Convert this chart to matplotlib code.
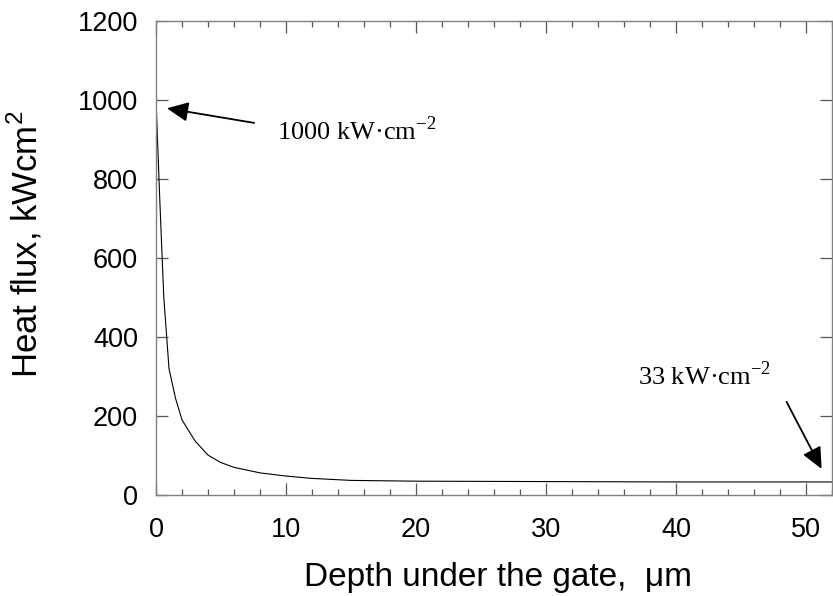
import matplotlib.pyplot as plt
from matplotlib.ticker import MultipleLocator

# Данные кривой
depth = [0, 0.3, 0.6, 1.0, 1.5, 2.0, 3.0, 4.0, 5.0, 6.0, 8.0, 10.0, 12.0,
         15.0, 20.0, 30.0, 40.0, 52.0]
flux = [1000, 740, 500, 320, 245, 190, 137, 101, 82, 70, 56, 48, 42,
        37, 35, 34, 33, 33]

x_ticks = [0, 10, 20, 30, 40, 50]
y_ticks = [0, 200, 400, 600, 800, 1000, 1200]

plt.rcParams['mathtext.fontset'] = 'custom'
plt.rcParams['mathtext.rm'] = 'Liberation Serif'
plt.rcParams['mathtext.sf'] = 'Liberation Sans'

fig = plt.figure(figsize=(8.33, 5.96), dpi=100)
ax = fig.add_axes([156 / 833, 101 / 596, 676 / 833, 474 / 596])

ax.plot(depth, flux, color='black', linewidth=0.8)

ax.set_xlim(0, 52)
ax.set_ylim(0, 1200)
ax.set_xticks(x_ticks)
ax.set_yticks(y_ticks)
ax.xaxis.set_minor_locator(MultipleLocator(2))

for s in ax.spines.values():
    s.set_color('#808080')
    s.set_linewidth(1.0)

ax.tick_params(which='both', direction='in', top=True, right=True,
               color='#555555', width=0.9)
ax.tick_params(which='major', length=8.6)
ax.tick_params(which='minor', length=4.6)
ax.tick_params(axis='x', which='major', pad=16, labelsize=19.5)
ax.tick_params(axis='y', which='major', pad=13, labelsize=19.5)
for lab in ax.get_xticklabels() + ax.get_yticklabels():
    lab.set_family('Liberation Sans')

ax.set_xlabel('Depth under the gate,  μm', fontsize=24, family='Liberation Sans')
ax.set_ylabel(r'Heat flux, kWcm$^{\mathsf{2}}$', fontsize=25, family='Liberation Sans')
ax.xaxis.set_label_coords(0.506, -0.141)
ax.yaxis.set_label_coords(-0.165, 0.53)

arrow = dict(arrowstyle='-|>,head_length=1.3,head_width=0.6', color='black',
             linewidth=1.3, shrinkA=0, shrinkB=0)

# Стрелки с подписями
ax.annotate('', xy=(0.84, 979), xytext=(7.55, 942), arrowprops=arrow)
ax.text(9.3, 899, r'1000 kW·cm$^{\mathrm{-2}}$', fontsize=19,
        family='Liberation Serif', va='baseline')

ax.annotate('', xy=(51.2, 66), xytext=(48.5, 236), arrowprops=arrow)
ax.text(37.1, 278, r'33 kW·cm$^{\mathrm{-2}}$', fontsize=19,
        family='Liberation Serif', va='baseline')

fig.savefig('out.png', dpi=100)
